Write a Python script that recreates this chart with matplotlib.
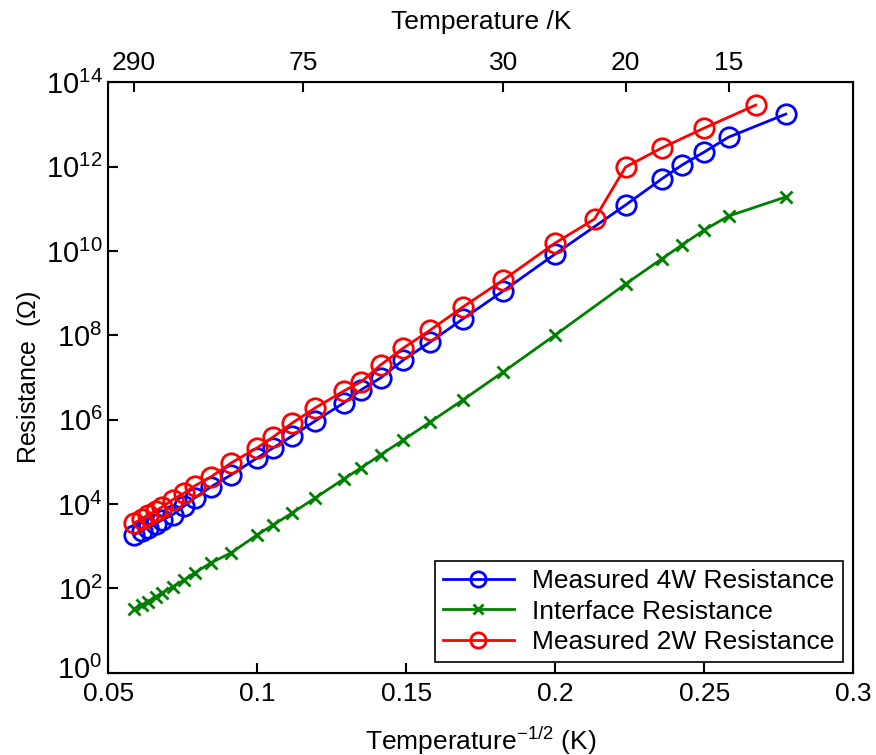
import numpy as np
import matplotlib
matplotlib.use("Agg")
import matplotlib.pyplot as plt
from matplotlib.transforms import ScaledTranslation

plt.rcParams['font.family'] = ['Liberation Sans', 'DejaVu Sans']
plt.rcParams['mathtext.fontset'] = 'custom'
plt.rcParams['mathtext.rm'] = 'Liberation Sans'
plt.rcParams['mathtext.it'] = 'Liberation Sans:italic'

# Temperatures (K) of the measurements
temp_4w = [290, 265, 250, 230, 215, 195, 175, 160, 140, 120, 100, 90, 80, 70,
           60, 55, 50, 45, 40, 35, 30, 25, 20, 18, 17, 16, 15, 13]
temp_2w = [290, 265, 250, 230, 215, 195, 175, 160, 140, 120, 100, 90, 80, 70,
           60, 55, 50, 45, 40, 35, 30, 25, 22, 20, 18, 16, 14]

r_4w = [1.86e3, 2.32e3, 2.73e3, 3.40e3, 4.23e3, 5.55e3, 9.06e3, 1.40e4, 2.56e4,
        4.92e4, 1.24e5, 2.15e5, 4.13e5, 9.38e5, 2.50e6, 5.08e6, 9.79e6, 2.61e7,
        6.98e7, 2.45e8, 1.13e9, 8.49e9, 1.23e11, 5.08e11, 1.09e12, 2.22e12,
        5.02e12, 1.76e13]
r_interface = [32.9, 40.8, 48.1, 63.2, 78.7, 109, 160, 234, 405, 698, 1.86e3,
               3.21e3, 6.18e3, 1.40e4, 3.95e4, 7.21e4, 1.47e5, 3.32e5, 8.87e5,
               2.94e6, 1.36e7, 1.02e8, 1.65e9, 6.46e9, 1.39e10, 3.15e10,
               6.75e10, 1.91e11]
r_2w = [3.59e3, 4.46e3, 5.55e3, 6.90e3, 8.59e3, 1.26e4, 1.84e4, 2.70e4, 4.42e4,
        9.46e4, 2.15e5, 3.91e5, 8.39e5, 1.91e6, 4.81e6, 7.87e6, 1.99e7, 5.02e7,
        1.34e8, 4.71e8, 2.06e9, 1.55e10, 5.73e10, 9.79e11, 2.76e12, 8.22e12,
        2.88e13]

top_temps = [290, 75, 30, 20, 15]
x_ticks = [0.05, 0.1, 0.15, 0.2, 0.25, 0.3]
x_ticklabels = ['0.05', '0.1', '0.15', '0.2', '0.25', '0.3']
y_exponents = [0, 2, 4, 6, 8, 10, 12, 14]

x4 = np.array(temp_4w, dtype=float) ** -0.5
x2 = np.array(temp_2w, dtype=float) ** -0.5

fig = plt.figure(figsize=(8.76, 7.55), dpi=100)
ax = fig.add_axes([0.1235, 0.109, 0.8505, 0.782])

ax.plot(x4, r_4w, '-o', color='#0000ff', lw=2, ms=14, mfc='none', mew=2,
        label='Measured 4W Resistance')
ax.plot(x4, r_interface, '-x', color='#008000', lw=2, ms=8, mew=2,
        label='Interface Resistance')
ax.plot(x2, r_2w, '-o', color='#ff0000', lw=2, ms=14, mfc='none', mew=2,
        label='Measured 2W Resistance')

ax.set_yscale('log')
ax.set_xlim(0.05, 0.3)
ax.set_ylim(1, 1e14)
ax.set_yticks([10.0 ** k for k in y_exponents])
ax.set_yticklabels(['$10^{%d}$' % k for k in y_exponents])
ax.yaxis.set_minor_locator(matplotlib.ticker.NullLocator())
ax.set_xticks(x_ticks)
ax.set_xticklabels(x_ticklabels)
ax.tick_params(axis='x', which='major', direction='in', length=7, width=1.5,
               labelsize=19, top=False, pad=7)
ax.tick_params(axis='y', which='major', direction='in', length=7, width=1.5,
               labelsize=21, right=False, pad=4)
for s in ax.spines.values():
    s.set_linewidth(1.5)

# nudge the lowest y label up a little so it clears the first x label
lab0 = ax.get_yticklabels()[0]
lab0.set_transform(lab0.get_transform() +
                   ScaledTranslation(0, 3.5 / 72, fig.dpi_scale_trans))

ax.set_xlabel('Temperature$^{-1/2}$ (K)', fontsize=19, labelpad=13)
ax.set_ylabel('Resistance  ($\\Omega$)', fontsize=18, labelpad=2)

# Top axis in temperature
axt = ax.twiny()
axt.set_xlim(ax.get_xlim())
axt.set_xticks([t ** -0.5 for t in top_temps])
axt.tick_params(axis='x', direction='in', length=7, width=1.5, labelsize=19, pad=5)
axt.set_xticklabels([str(t) for t in top_temps])
axt.set_xlabel('Temperature /K', fontsize=19, labelpad=16)

leg = ax.legend(loc='lower right', fontsize=19, frameon=True, fancybox=False,
                edgecolor='black', framealpha=1, handlelength=2.7,
                borderaxespad=0.4, labelspacing=0.25, borderpad=0.3,
                handletextpad=0.7)
leg.get_frame().set_linewidth(1.2)
for h in leg.legend_handles:
    h.set_markersize(11 if h.get_marker() == 'o' else 7)

fig.savefig('out.png', dpi=100)
